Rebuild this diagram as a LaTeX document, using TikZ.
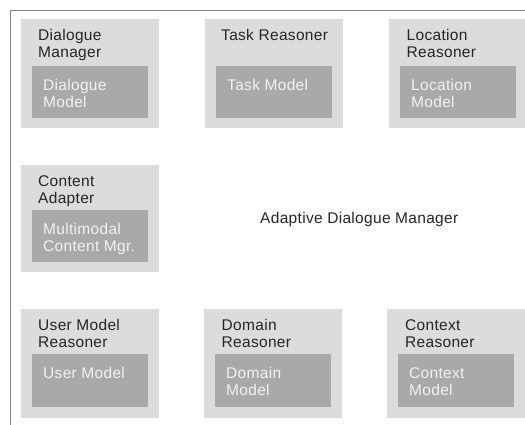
\documentclass[tikz,border=0pt]{standalone}
\usepackage{fontspec}
\setmainfont[LetterSpace=2.0]{Liberation Sans}
\usetikzlibrary{calc}
\definecolor{outerfill}{HTML}{DCDCDC}
\definecolor{innerfill}{HTML}{A9A9A9}
\definecolor{darktext}{HTML}{262626}
\definecolor{lighttext}{HTML}{F2F2F2}
\definecolor{framegray}{HTML}{858585}
\begin{document}
\begin{tikzpicture}[x=1pt,y=1pt,
  outerbox/.style={fill=outerfill, draw=none, minimum width=138pt, minimum height=109pt, anchor=north west, inner sep=0pt, outer sep=0pt},
  innerbox/.style={fill=innerfill, draw=none, minimum width=116pt, minimum height=52pt, anchor=north west, inner sep=0pt, outer sep=0pt},
  lbl/.style={font=\fontsize{15.5}{17}\selectfont, align=left, inner sep=0pt, anchor=north west},
  outerlbl/.style={lbl, text=darktext},
  innerlbl/.style={lbl, text=lighttext},
  framestyle/.style={draw=framegray, line width=1.5pt}]
\useasboundingbox (0,0) rectangle (525,424);
\fill[white] (0,0) rectangle (525,424);
\coordinate (fbl) at (10.5,-5);
\coordinate (ftl) at (10.5,413.5);
\coordinate (ftr) at (530,413.5);
\draw[framestyle] (fbl) -- (ftl) -- (ftr);

% row 1
\node[outerbox] (dm) at (21,405) {};
\node[innerbox] (dmi) at (32,358) {};
\node[outerbox] (tr) at (205,405) {};
\node[innerbox] (tri) at (216,358) {};
\node[outerbox] (lr) at (389,405) {};
\node[innerbox] (lri) at (400,358) {};
% row 2
\node[outerbox, minimum height=107pt] (ca) at (21,259) {};
\node[innerbox] (cai) at (32,214) {};
% row 3
\node[outerbox] (um) at (21,115) {};
\node[innerbox, minimum height=53pt] (umi) at (32,70) {};
\node[outerbox] (dr) at (204,115) {};
\node[innerbox, minimum height=53pt] (dri) at (215,70) {};
\node[outerbox] (cr) at (387,115) {};
\node[innerbox, minimum height=53pt] (cri) at (398,70) {};

% labels
\node[outerlbl] (dml) at ($(dm.north west)+(17,-10.3)$) {Dialogue\\Manager};
\node[innerlbl] (dmil) at ($(dmi.north west)+(11,-13.3)$) {Dialogue\\Model};
\node[outerlbl] (trl) at ($(tr.north west)+(16,-10.3)$) {Task Reasoner};
\node[innerlbl] (tril) at ($(tri.north west)+(11,-13.3)$) {Task Model};
\node[outerlbl] (lrl) at ($(lr.north west)+(17.5,-10.3)$) {Location\\Reasoner};
\node[innerlbl] (lril) at ($(lri.north west)+(11,-13.3)$) {Location\\Model};
\node[outerlbl] (cal) at ($(ca.north west)+(17,-10.3)$) {Content\\Adapter};
\node[innerlbl] (cail) at ($(cai.north west)+(11,-13.3)$) {Multimodal\\Content Mgr.};
\node[outerlbl] (uml) at ($(um.north west)+(17,-10.3)$) {User Model\\Reasoner};
\node[innerlbl] (umil) at ($(umi.north west)+(11,-13.3)$) {User Model};
\node[outerlbl] (drl) at ($(dr.north west)+(17.5,-10.3)$) {Domain\\Reasoner};
\node[innerlbl] (dril) at ($(dri.north west)+(11,-13.3)$) {Domain\\Model};
\node[outerlbl] (crl) at ($(cr.north west)+(18,-10.3)$) {Context\\Reasoner};
\node[innerlbl] (cril) at ($(cri.north west)+(11,-13.3)$) {Context\\Model};

\node[font=\fontsize{15.5}{17}\selectfont, text=darktext, inner sep=0pt, anchor=base west] (adm) at (260,201) {Adaptive Dialogue Manager};
\end{tikzpicture}
\end{document}
